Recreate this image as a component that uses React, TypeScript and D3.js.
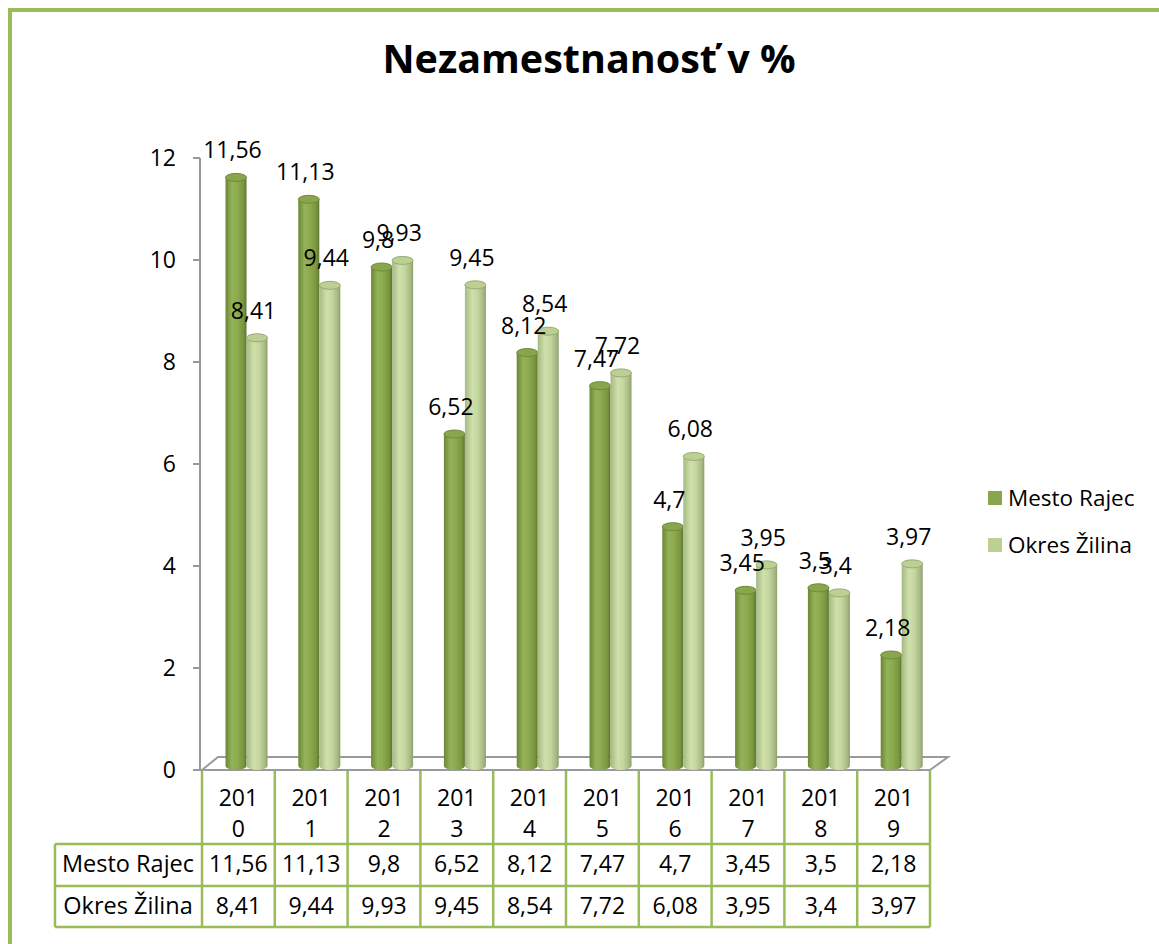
import React from 'react';
import * as d3 from 'd3';

const years = ['2010', '2011', '2012', '2013', '2014', '2015', '2016', '2017', '2018', '2019'];
const seriesNames = ['Mesto Rajec', 'Okres Žilina'];
const mestoRajec = [11.56, 11.13, 9.8, 6.52, 8.12, 7.47, 4.7, 3.45, 3.5, 2.18];
const okresZilina = [8.41, 9.44, 9.93, 9.45, 8.54, 7.72, 6.08, 3.95, 3.4, 3.97];
const yTicks = [0, 2, 4, 6, 8, 10, 12];

const GREEN = '#9bbb59';
const FONT = '"Open Sans", "DejaVu Sans", sans-serif';
const fmt = (v: number) => String(v).replace('.', ',');

export default function App() {
  const ref = React.useRef<SVGSVGElement>(null);

  React.useEffect(() => {
    const svg = d3.select(ref.current);
    svg.selectAll('*').remove();

    const seriesData = [mestoRajec, okresZilina];

    // scales
    const x = d3.scaleBand().domain(years).range([202, 930]).padding(0);
    const xs = d3.scaleBand().domain(seriesNames).range([23.5, 65.5]).padding(0);
    const yAxis = d3.scaleLinear().domain([0, 12]).range([770, 158]);
    const yBar = d3.scaleLinear().domain([0, 12]).range([766, 155]);

    // gradients for the cylinders
    const defs = svg.append('defs');
    const grads = [
      ['g0', [['0%', '#6b8636'], ['30%', '#94b257'], ['55%', '#8dab4f'], ['85%', '#7a963f'], ['100%', '#5c762e']]],
      ['g1', [['0%', '#a5b983'], ['35%', '#cfe0ab'], ['60%', '#c5d79f'], ['88%', '#a6b982'], ['100%', '#8b9d69']]],
    ] as [string, string[][]][];
    grads.forEach(([id, stops]) => {
      const g = defs.append('linearGradient').attr('id', id).attr('x1', '0').attr('x2', '1').attr('y1', '0').attr('y2', '0');
      stops.forEach(s => g.append('stop').attr('offset', s[0]).attr('stop-color', s[1]));
    });
    const topFill = ['#8aa64c', '#bdd093'];
    const topStroke = ['#6f8a3a', '#98ab76'];

    // frame
    svg.append('rect')
      .attr('x', 10).attr('y', 10).attr('width', 1300).attr('height', 1100)
      .attr('fill', 'none').attr('stroke', GREEN).attr('stroke-width', 4);

    // title
    svg.append('text')
      .attr('x', 589).attr('y', 73)
      .attr('text-anchor', 'middle')
      .style('font-family', FONT).style('font-weight', 700).style('font-size', '39.5px')
      .text('Nezamestnanosť v %');

    // floor
    svg.append('path')
      .attr('d', 'M202,770 L218,757 L948,757 L930,770 Z')
      .attr('fill', '#fff').attr('stroke', '#9a9a9a').attr('stroke-width', 2);
    svg.append('line')
      .attr('x1', 193).attr('x2', 930).attr('y1', 770).attr('y2', 770)
      .attr('stroke', '#9a9a9a').attr('stroke-width', 2);

    // y axis
    svg.append('line')
      .attr('x1', 200).attr('x2', 200).attr('y1', yAxis(12)).attr('y2', yAxis(0))
      .attr('stroke', '#9a9a9a').attr('stroke-width', 2);
    const ticks = svg.append('g');
    ticks.selectAll('line').data(yTicks).enter().append('line')
      .attr('x1', 193).attr('x2', 200)
      .attr('y1', d => yAxis(d)).attr('y2', d => yAxis(d))
      .attr('stroke', '#9a9a9a').attr('stroke-width', 2);
    ticks.selectAll('text').data(yTicks).enter().append('text')
      .attr('x', 176).attr('y', d => yAxis(d) + 8)
      .attr('text-anchor', 'end')
      .style('font-family', FONT).style('font-size', '23px')
      .text(d => d);

    // cylinders
    const rx = 10.5, ry = 4;
    seriesNames.forEach((name, si) => {
      const g = svg.append('g');
      seriesData[si].forEach((v, i) => {
        const x0 = (x(years[i]) as number) + (xs(name) as number);
        const x1 = x0 + xs.bandwidth();
        const yt = yBar(v), yb = yBar(0);
        g.append('path')
          .attr('d', `M${x0},${yt} L${x0},${yb} A${rx},${ry} 0 0 0 ${x1},${yb} L${x1},${yt} Z`)
          .attr('fill', `url(#g${si})`);
        g.append('ellipse')
          .attr('cx', (x0 + x1) / 2).attr('cy', yt).attr('rx', rx).attr('ry', ry)
          .attr('fill', topFill[si]).attr('stroke', topStroke[si]).attr('stroke-width', 1);
      });
    });

    // data labels
    seriesNames.forEach((name, si) => {
      svg.append('g').selectAll('text').data(seriesData[si]).enter().append('text')
        .attr('x', (d, i) => (x(years[i]) as number) + (xs(name) as number) + xs.bandwidth() / 2 - 3.5)
        .attr('y', d => yBar(d) - 19)
        .attr('text-anchor', 'middle')
        .style('font-family', FONT).style('font-size', '23px')
        .text(d => fmt(d));
    });

    // legend
    const legend = svg.append('g');
    seriesNames.forEach((name, si) => {
      legend.append('rect')
        .attr('x', 988).attr('y', 491 + si * 47).attr('width', 14).attr('height', 14)
        .attr('fill', si === 0 ? '#8aa64c' : '#bdd093');
      legend.append('text')
        .attr('x', 1008).attr('y', 506 + si * 47)
        .style('font-family', FONT).style('font-size', '22.5px')
        .text(name);
    });

    // data table
    const table = svg.append('g');
    const rowLines = [844, 886, 927];
    rowLines.forEach(yy => {
      table.append('line').attr('x1', 55).attr('x2', 930).attr('y1', yy).attr('y2', yy)
        .attr('stroke', GREEN).attr('stroke-width', 2.5);
    });
    table.append('line').attr('x1', 55).attr('x2', 55).attr('y1', 844).attr('y2', 927)
      .attr('stroke', GREEN).attr('stroke-width', 2.5);
    years.concat(['end']).forEach((yr, i) => {
      const xx = 202 + i * x.bandwidth();
      table.append('line').attr('x1', xx).attr('x2', xx).attr('y1', 771).attr('y2', 927)
        .attr('stroke', GREEN).attr('stroke-width', 2.5);
    });
    years.forEach(yr => {
      const cx = (x(yr) as number) + x.bandwidth() / 2;
      const t = table.append('text').attr('text-anchor', 'middle')
        .style('font-family', FONT).style('font-size', '23px');
      t.append('tspan').attr('x', cx).attr('y', 806).text(yr.slice(0, 3));
      t.append('tspan').attr('x', cx).attr('y', 837).text(yr.slice(3));
    });
    const rowBase = [872, 914];
    seriesNames.forEach((name, si) => {
      table.append('text').attr('x', 128).attr('y', rowBase[si]).attr('text-anchor', 'middle')
        .style('font-family', FONT).style('font-size', '23.5px').text(name);
      table.append('g').selectAll('text').data(seriesData[si]).enter().append('text')
        .attr('x', (d, i) => (x(years[i]) as number) + x.bandwidth() / 2)
        .attr('y', rowBase[si])
        .attr('text-anchor', 'middle')
        .style('font-family', FONT).style('font-size', '23px')
        .text(d => fmt(d));
    });
  }, []);

  return (
    <svg ref={ref} width={1159} height={944}
      style={{ position: 'absolute', left: 0, top: 0, background: '#fff' }} />
  );
}
